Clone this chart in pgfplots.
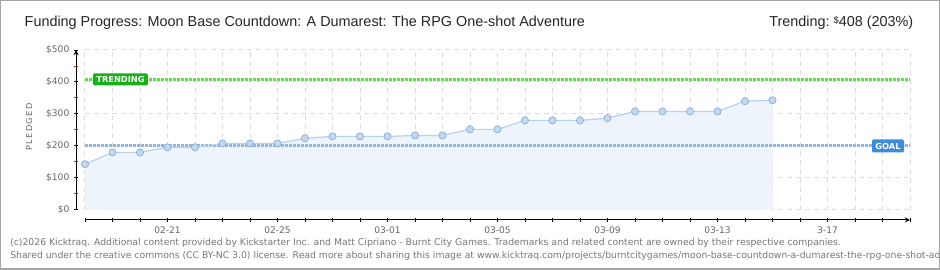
\documentclass[border=0pt]{standalone}
\usepackage{fontspec}
\setmainfont{Liberation Sans}
\newfontfamily\dv{DejaVu Sans}
\usepackage{pgfplots}
\pgfplotsset{compat=1.18}
\definecolor{areafill}{HTML}{EDF4FC}
\definecolor{lineblue}{HTML}{B5D2F2}
\definecolor{markfill}{HTML}{BFD8F5}
\definecolor{markedge}{HTML}{8FAACB}
\definecolor{goalc}{HTML}{94B6DE}
\definecolor{trendc}{HTML}{66D955}
\definecolor{trendbox}{HTML}{18B018}
\definecolor{goalbox}{HTML}{3D8BDB}
\definecolor{gridc}{HTML}{DDDDDD}
\definecolor{tickc}{HTML}{666666}
\definecolor{footc}{HTML}{777777}
\pgfplotstableread{
day value
0 143
1 180
2 180
3 196
4 196
5 208
6 208
7 208
8 224
9 230
10 230
11 230
12 233
13 233
14 252
15 252
16 280
17 280
18 280
19 287
20 308
21 308
22 308
23 308
24 340
25 343
}\pledged
\pgfplotsset{base/.style={
  scale only axis, anchor=south west,
  width=618.75pt, height=120pt,
  xmin=0, xmax=30, ymin=0, ymax=500,
  clip=false,
  xtick={0,...,30}, ytick={0,100,...,500},
  tick align=outside,
  major tick length=3pt, minor tick length=2.5pt,
  major tick style={black, line width=0.75pt},
  minor tick style={red, line width=0.75pt},
  axis line style={-, black, line width=0.75pt},
  tick label style={font=\dv\fontsize{6.8}{7}\selectfont, text=tickc},
}}
\begin{document}
\begin{tikzpicture}[x=0.75pt,y=0.75pt]
\fill[white] (0,0) rectangle (940,270);
% main plot area
\begin{axis}[base, at={(63.75pt,45pt)},
  axis line style={draw=none},
  major tick length=0pt,
  xticklabels={}, yticklabels={},
  grid=major,
  major grid style={gridc, line width=0.75pt, dash pattern=on 3.75pt off 3pt},
]
\addplot[fill=areafill, draw=none] table[x=day,y=value]{\pledged} \closedcycle;
\addplot[goalc, line width=2.25pt, dash pattern=on 2.25pt off 0.75pt] coordinates {(0,200) (30,200)};
\addplot[trendc, line width=2.25pt, dash pattern=on 2.25pt off 0.75pt] coordinates {(0,408) (30,408)};
\addplot[lineblue, line width=0.9pt, mark=*, mark size=2.7pt,
  mark options={fill=markfill, draw=markedge, line width=0.5pt}] table[x=day,y=value]{\pledged};
\node[fill=trendbox, text=white, rounded corners=1pt, minimum width=41.25pt, minimum height=9pt, inner sep=0pt,
  font=\dv\bfseries\fontsize{6.2}{7}\selectfont] at (axis cs:1.29,408) {TRENDING};
\node[fill=goalbox, text=white, rounded corners=1pt, minimum width=24pt, minimum height=9.75pt, inner sep=0pt,
  font=\dv\bfseries\fontsize{6.2}{7}\selectfont] at (axis cs:29.2,200) {GOAL};
\end{axis}
% detached x axis
\begin{axis}[base, at={(63.75pt,37.5pt)},
  axis x line=bottom, axis y line=none,
  xticklabels={,,,02-21,,,,02-25,,,,03-01,,,,03-05,,,,03-09,,,,03-13,,,,3-17,,,},
]
\end{axis}
% detached y axis
\begin{axis}[base, at={(57pt,45pt)},
  axis y line=left, axis x line=none,
  yticklabels={\$0,\$100,\$200,\$300,\$400,\$500},
  minor ytick={50,150,...,450},
]
\end{axis}
\node[rotate=90, text=tickc, font=\dv\fontsize{6.2}{7}\selectfont] at (29,143) {P\,L\,E\,D\,G\,E\,D};
\node[anchor=base west, text=black!85, font=\fontsize{10.8}{13}\selectfont] at (20,243) {Funding Progress: Moon Base Countdown: A Dumarest: The RPG One-shot Adventure};
\node[anchor=base east, text=black!85, font=\fontsize{10.8}{13}\selectfont] at (918,243) {Trending:\ \raisebox{0.45ex}{\fontsize{7}{8}\selectfont\$}408 (203\%)};
\begin{scope}
\clip (0,0) rectangle (938,270);
\node[anchor=base west, inner sep=0pt, text=footc, font=\dv\fontsize{6.95}{7.5}\selectfont] at (10,24) {(c)2026 Kicktraq. Additional content provided by Kickstarter Inc. and Matt Cipriano - Burnt City Games. Trademarks and related content are owned by their respective companies.};
\node[anchor=base west, inner sep=0pt, text=footc, font=\dv\fontsize{6.95}{7.5}\selectfont] at (10,11) {Shared under the creative commons (CC BY-NC 3.0) license. Read more about sharing this image at www.kicktraq.com/projects/burntcitygames/moon-base-countdown-a-dumarest-the-rpg-one-shot-adventure/};
\end{scope}
\draw[gray!70, line width=1.125pt] (0.75,0.75) rectangle (939.25,269.25);
\pgfresetboundingbox
\path[use as bounding box] (0,0) rectangle (940,270);
\end{tikzpicture}
\end{document}
